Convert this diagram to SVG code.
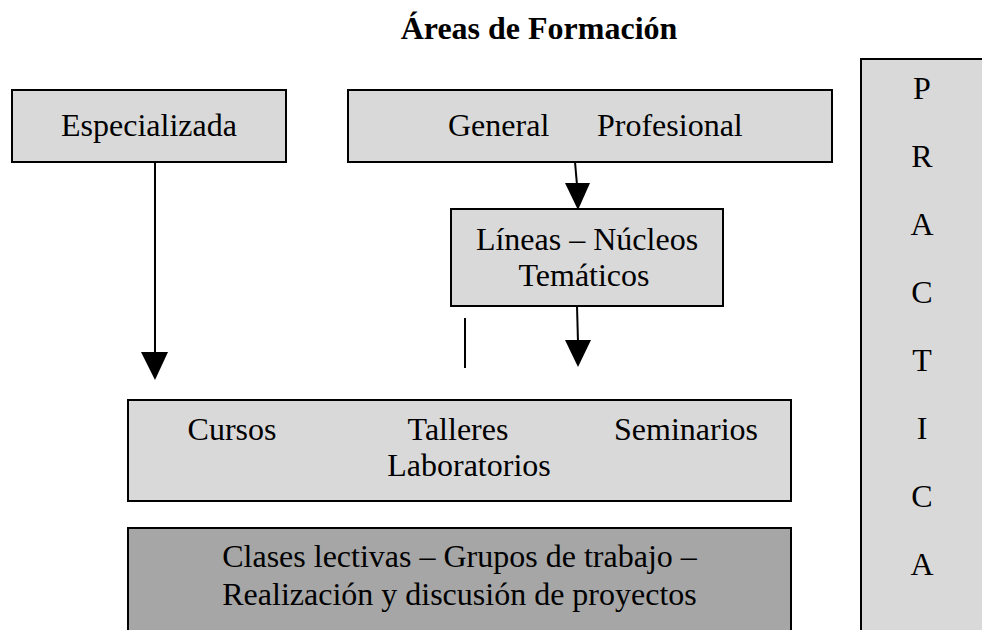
<svg xmlns="http://www.w3.org/2000/svg" width="982" height="630" viewBox="0 0 982 630">
<style>
text{font-family:"Liberation Serif","Times New Roman",serif;font-size:32px;fill:#000}
.t{font-weight:bold}
.m{text-anchor:middle}
.box{fill:#d9d9d9;stroke:#000;stroke-width:2}
.dark{fill:#a6a6a6;stroke:#000;stroke-width:2}
.ln{stroke:#000;stroke-width:2;fill:none}
.ah{fill:#000}
</style>
<rect width="982" height="630" fill="#fff"/>
<text class="t m" x="539" y="39">Áreas de Formación</text>
<g id="especializada">
<rect class="box" x="12" y="90" width="274" height="72"/>
<text class="m" x="149" y="136">Especializada</text>
</g>
<g id="general">
<rect class="box" x="348" y="90" width="484" height="72"/>
<text x="448" y="136">General</text>
<text x="597" y="136">Profesional</text>
</g>
<g id="lineas">
<rect class="box" x="451" y="209" width="272" height="97"/>
<text class="m" x="587" y="250">Líneas – Núcleos</text>
<text class="m" x="584" y="286">Temáticos</text>
</g>
<g id="cursos">
<rect class="box" x="128" y="400" width="663" height="101"/>
<text class="m" x="232" y="440">Cursos</text>
<text class="m" x="458" y="440">Talleres</text>
<text class="m" x="686" y="440">Seminarios</text>
<text class="m" x="469" y="476">Laboratorios</text>
</g>
<g id="clases">
<rect class="dark" x="128" y="528" width="663" height="130"/>
<text class="m" x="459.5" y="567">Clases lectivas – Grupos de trabajo –</text>
<text class="m" x="459.5" y="605">Realización y discusión de proyectos</text>
</g>
<g id="practica">
<rect class="box" x="861" y="59" width="200" height="620"/>
<text class="m" x="922" y="99">P</text>
<text class="m" x="922" y="167">R</text>
<text class="m" x="922" y="235">A</text>
<text class="m" x="922" y="303">C</text>
<text class="m" x="922" y="371">T</text>
<text class="m" x="922" y="439">I</text>
<text class="m" x="922" y="507">C</text>
<text class="m" x="922" y="575">A</text>
</g>
<g id="connectors">
<line class="ln" x1="155" y1="162" x2="155" y2="354"/>
<polygon class="ah" points="141,352 168,352 155,380"/>
<line class="ln" x1="575" y1="162" x2="577" y2="185"/>
<polygon class="ah" points="565,183 590,183 578,210"/>
<line class="ln" x1="577" y1="306" x2="578" y2="342"/>
<polygon class="ah" points="565,340 591,340 578,367"/>
<line class="ln" x1="465" y1="318" x2="465" y2="368"/>
</g>
</svg>
